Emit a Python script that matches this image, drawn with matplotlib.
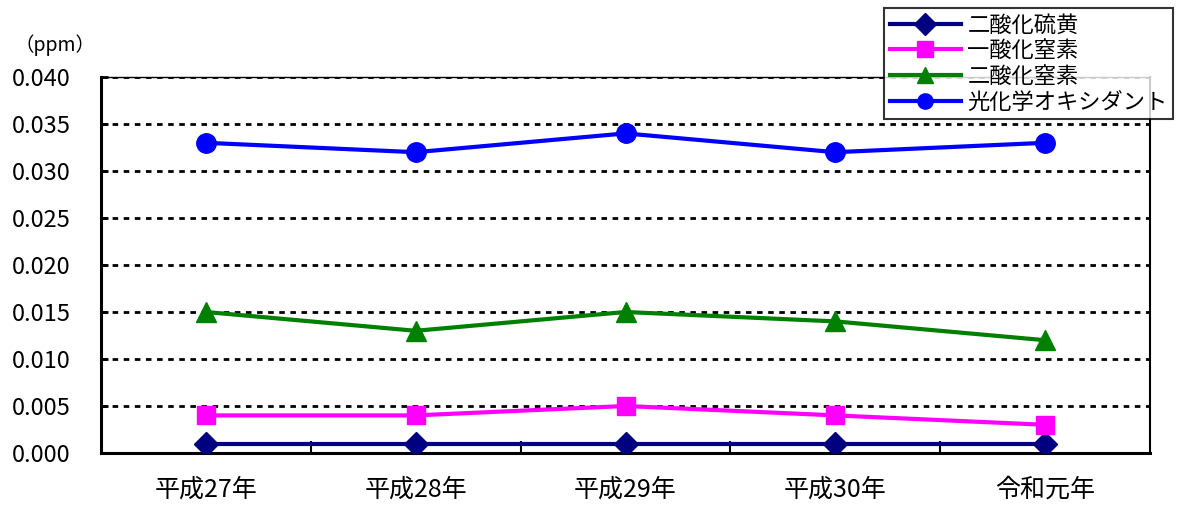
import matplotlib.pyplot as plt
import numpy as np

plt.rcParams['font.family'] = ['Noto Sans CJK JP', 'DejaVu Sans']

years = ["平成27年", "平成28年", "平成29年", "平成30年", "令和元年"]
so2 = [0.001, 0.001, 0.001, 0.001, 0.001]
no = [0.004, 0.004, 0.005, 0.004, 0.003]
no2 = [0.015, 0.013, 0.015, 0.014, 0.012]
ox = [0.033, 0.032, 0.034, 0.032, 0.033]
names = ["二酸化硫黄", "一酸化窒素", "二酸化窒素", "光化学オキシダント"]

fig = plt.figure(figsize=(11.82, 5.07), dpi=100)
ax = fig.add_axes([101 / 1182, 1 - 453 / 507, 1049 / 1182, 376 / 507])

x = np.arange(len(years))
ax.plot(x, so2, color="#000080", lw=3, marker="D", ms=12, label=names[0], zorder=5)
ax.plot(x, no, color="#ff00ff", lw=3, marker="s", ms=13, label=names[1], zorder=5)
ax.plot(x, no2, color="#008000", lw=3, marker="^", ms=15, label=names[2], zorder=5)
ax.plot(x, ox, color="#0000ff", lw=3, marker="o", ms=14, label=names[3], zorder=5)

ax.set_xlim(-0.5, len(years) - 0.5)
ax.set_ylim(0, 0.040)
yt = np.arange(0, 0.0401, 0.005)
ax.set_yticks(yt)
ax.set_yticklabels([f"{v:.3f}" for v in yt], fontsize=17)
for v in yt[1:]:
    ax.axhline(v, color="black", lw=2, ls=(0, (2, 2)), zorder=1)

ax.set_xticks(x)
ax.set_xticklabels(years, fontsize=18)
ax.set_xticks(np.arange(0.5, len(years) - 1, 1), minor=True)
ax.tick_params(axis="x", which="major", length=0, pad=17)
ax.tick_params(axis="x", which="minor", direction="in", length=9, width=1.5)
ax.tick_params(axis="y", direction="in", length=5, width=2, pad=22)

ax.spines["left"].set_linewidth(2.2)
ax.spines["bottom"].set_linewidth(2.2)
ax.spines["right"].set_linewidth(1.5)
ax.spines["top"].set_linewidth(1)

fig.text(14 / 1182, 1 - 45 / 507, "（ppm）", fontsize=14, va="center", ha="left")

leg = ax.legend(loc="upper left", bbox_to_anchor=(884 / 1182, 1 - 8 / 507),
                bbox_transform=fig.transFigure, fontsize=16, frameon=True,
                fancybox=False, edgecolor="black", handlelength=3.2,
                borderpad=0.25, labelspacing=0.12, handletextpad=0.3,
                borderaxespad=0)
leg.get_frame().set_linewidth(1.5)
leg.set_zorder(10)
for h in leg.get_lines():
    h.set_markersize(11)

fig.savefig("out.png", dpi=100)
